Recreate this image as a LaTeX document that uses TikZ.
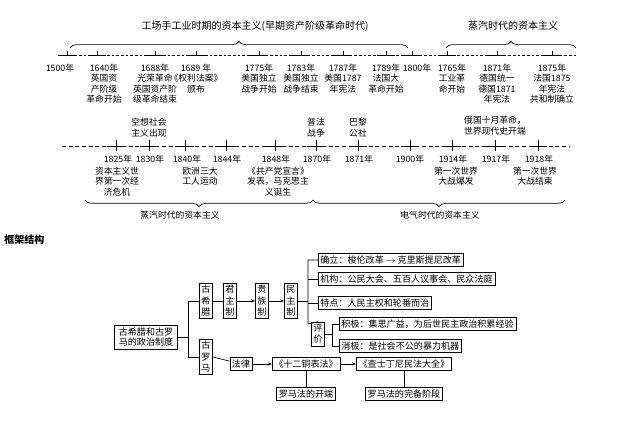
\documentclass[tikz,border=0pt]{standalone}
\usepackage{fontspec}
\setmainfont{Noto Sans CJK SC}
\usetikzlibrary{decorations.pathreplacing,arrows.meta}
\begin{document}
\begin{tikzpicture}[x=0.75pt,y=-0.75pt,
  t/.style={font=\fontsize{6.6}{7.8}\selectfont,align=center,inner sep=0.5pt},
  ttl/.style={font=\fontsize{7.5}{9}\selectfont,inner sep=0.5pt},
  bx/.style={draw,font=\fontsize{6.8}{8}\selectfont,inner sep=1.6pt,align=center},
  vb/.style={draw,font=\fontsize{6.8}{8.6}\selectfont,inner sep=1.6pt,align=center,minimum width=9pt},
  ln/.style={line width=0.5pt},
  ar/.style={ln,-{Stealth[length=3pt]}},
  brc/.style={decorate,decoration={brace,amplitude=5pt},line width=0.5pt},
  brcm/.style={decorate,decoration={brace,amplitude=5pt,mirror},line width=0.5pt}]
\useasboundingbox (0,0) rectangle (640,423);
\fill[white] (0,0) rectangle (640,423);
% titles and braces
\node[ttl] (T1) at (255,26) {工场手工业时期的资本主义(早期资产阶级革命时代)};
\node[ttl] (T2) at (513,26) {蒸汽时代的资本主义};
\draw[brc] (70,48) -- (408,48);
\draw[brc] (446,48) -- (576,48);
% timeline 1
\draw[ln,dashed,dash pattern=on 2pt off 1.5pt] (65,55) -- (576,55);
\foreach \n/\x in {a/67,b/97,c/155,d/196,e/259,f/301,g/343,h/386,i/412,j/447,k/497,l/552}{
  \draw[ln] (\x-9,55) -- (\x+9,55);
  \draw[ln] (\x,51) coordinate (u\n) -- (\x,55) coordinate (p\n);
}
\node[t,anchor=north] (ya) at (60,63) {1500年};
\node[t,anchor=north] (yb) at (104,63) {1640年\\英国资\\产阶级\\革命开始};
\node[t,anchor=north] (yc) at (155,63) {1688年\\光荣革命\\英国资产阶\\级革命结束};
\node[t,anchor=north] (yd) at (196,63) {1689 年\\《权利法案》\\颁布};
\node[t,anchor=north] (ye) at (259,63) {1775年\\美国独立\\战争开始};
\node[t,anchor=north] (yf) at (301,63) {1783年\\美国独立\\战争结束};
\node[t,anchor=north] (yg) at (343,63) {1787年\\美国1787\\年宪法};
\node[t,anchor=north] (yh) at (386,63) {1789年\\法国大\\革命开始};
\node[t,anchor=north] (yi) at (417,63) {1800年};
\node[t,anchor=north] (yj) at (452,63) {1765年\\工业革\\命开始};
\node[t,anchor=north] (yk) at (497,63) {1871年\\德国统一\\德国1871\\年宪法};
\node[t,anchor=north] (yl) at (552,63) {1875年\\法国1875\\年宪法\\共和制确立};
% timeline 2
\draw[ln,dashed,dash pattern=on 3pt off 2pt] (62,146) -- (570,146);
\foreach \n/\x in {a/116,b/149,c/185,d/226,e/275,f/316,g/358,h/410,i/452,j/495,k/538}{
  \draw[ln] (\x-9,146) -- (\x+9,146);
  \draw[ln] (\x,140) coordinate (v\n) -- (\x,151) coordinate (q\n);
}
\node[t,anchor=north] (za) at (118,154) {1825年};
\node[t,anchor=north] (zb) at (150,154) {1830年};
\node[t,anchor=north] (zc) at (187,154) {1840年};
\node[t,anchor=north] (zd) at (227,154) {1844年};
\node[t,anchor=north] (ze) at (276,154) {1848年};
\node[t,anchor=north] (zf) at (317,154) {1870年};
\node[t,anchor=north] (zg) at (359,154) {1871年};
\node[t,anchor=north] (zh) at (410,154) {1900年};
\node[t,anchor=north] (zi) at (453,154) {1914年};
\node[t,anchor=north] (zj) at (496,154) {1917年};
\node[t,anchor=north] (zk) at (539,154) {1918年};
\node[t,anchor=south] (wa) at (149,138) {空想社会\\主义出现};
\node[t,anchor=south] (wb) at (316,138) {普法\\战争};
\node[t,anchor=south] (wc) at (358,138) {巴黎\\公社};
\node[t,anchor=south] (wd) at (495,136) {俄国十月革命，\\世界现代史开端};
\node[t,anchor=north] (sa) at (117,166) {资本主义世\\界第一次经\\济危机};
\node[t,anchor=north] (sb) at (200,166) {欧洲三大\\工人运动};
\node[t,anchor=north] (sc) at (278,166) {《共产党宣言》\\发表，马克思主\\义诞生};
\node[t,anchor=north] (sd) at (456,166) {第一次世界\\大战爆发};
\node[t,anchor=north] (se) at (535,166) {第一次世界\\大战结束};
\draw[brcm] (85,200) -- (313,200);
\draw[brcm] (313,200) -- (565,200);
\node[t] (B1) at (180,215) {蒸汽时代的资本主义};
\node[t] (B2) at (440,215) {电气时代的资本主义};
% framework
\node[font=\bfseries\fontsize{7.5}{9}\selectfont,anchor=west,inner sep=0pt] (K) at (4,240) {框架结构};
\node[bx,minimum width=47pt,minimum height=18pt] (R) at (146,337) {古希腊和古罗\\马的政治制度};
\node[vb] (G) at (206,301) {古\\希\\腊};
\node[vb] (M) at (206,357) {古\\罗\\马};
\node[vb] (J) at (230,301) {君\\主\\制};
\node[vb] (Z) at (262,301) {贵\\族\\制};
\node[vb] (D) at (291,301) {民\\主\\制};
\draw[ln] (R.east) -- (188,337) coordinate (br);
\draw[ln] (G.west) -| (188,357) -- (M.west);
\draw[ln] (G) -- (J);
\draw[ar] (J) -- (Z);
\draw[ar] (Z) -- (D);
\node[bx,anchor=west] (Q1) at (318,260) {确立：梭伦改革\,$\to$\,克里斯提尼改革};
\node[bx,anchor=west] (Q2) at (318,279) {机构：公民大会、五百人议事会、民众法庭};
\node[bx,anchor=west] (Q3) at (318,303) {特点：人民主权和轮番而治};
\node[vb] (P) at (318,334) {评\\价};
\node[bx,anchor=west] (P1) at (339,324) {积极：集思广益，为后世民主政治积累经验};
\node[bx,anchor=west] (P2) at (339,346) {消极：是社会不公的暴力机器};
\draw[ln] (D.east) -- (308,301);
\draw[ln] (Q1.west) -| (308,324) -- (P.north);
\draw[ln] (Q2.west) -- (308,279);
\draw[ln] (Q3.west) -- (308,303);
\draw[ln] (P.east) -- (332,334);
\draw[ln] (P1.west) -| (332,346) -- (P2.west);
\node[bx] (L) at (241,364) {法律};
\node[bx] (S) at (306,364) {《十二铜表法》};
\node[bx] (C) at (404,364) {《查士丁尼民法大全》};
\node[bx] (S2) at (306,394) {罗马法的开端};
\node[bx] (C2) at (404,394) {罗马法的完备阶段};
\draw[ln] (M.east) -- (L);
\draw[ar] (L) -- (S);
\draw[ar] (S) -- (C);
\draw[ln] (S) -- (S2);
\draw[ln] (C) -- (C2);
\end{tikzpicture}
\end{document}
